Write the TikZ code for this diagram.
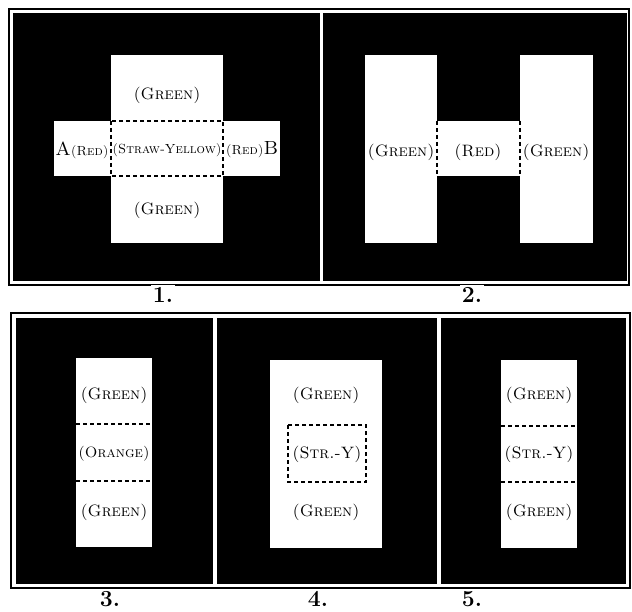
\documentclass[tikz,border=0pt]{standalone}
\usepackage{fontspec}
\begin{document}
\begin{tikzpicture}[x=1pt,y=-1pt,
 dsh/.style={dash pattern=on 4pt off 3pt, line width=1.4pt},
 frm/.style={line width=1.3pt},
 lbl/.style={font=\fontsize{16.5}{18}\selectfont\scshape, inner sep=0pt},
 lmd/.style={font=\fontsize{15}{17}\selectfont\scshape, inner sep=0pt},
 lsm/.style={font=\fontsize{13.2}{15}\selectfont\scshape, inner sep=0pt},
 num/.style={font=\fontsize{23}{25}\selectfont\bfseries, fill=white, inner sep=2pt}]
\useasboundingbox (0,0) rectangle (632,612);
% ---------- frames ----------
\draw[frm] (9,9) rectangle (629,285);
\draw[frm] (11,313) rectangle (630,588);
% ---------- panel 1 ----------
\fill (13,13) rectangle (320,281);
\fill[white] (111,55) rectangle (223,243);
\fill[white] (54,121) rectangle (280,176);
\draw[dsh] (111,121) rectangle (223,176);
\node[lbl] (p1t) at (167,95) {(Green)};
\node[lbl] (p1b) at (167,210) {(Green)};
\node[lsm] (p1c) at (167,150) {(Straw-Yellow)};
\node[lsm] (p1l) at (82,150) {{\fontsize{19}{20}\selectfont A}(Red)};
\node[lsm] (p1r) at (252,150) {(Red){\fontsize{19}{20}\selectfont B}};
% ---------- panel 2 ----------
\fill (323,13) rectangle (627,281);
\fill[white] (365,55) rectangle (437,243);
\fill[white] (520,55) rectangle (593,243);
\fill[white] (437,121) rectangle (520,176);
\draw[dsh] (437,121) -- (437,176);
\draw[dsh] (520,121) -- (520,176);
\node[lbl] (p2l) at (401,152) {(Green)};
\node[lbl] (p2c) at (478,152) {(Red)};
\node[lbl] (p2r) at (556,152) {(Green)};
% ---------- panel 3 ----------
\fill (16,318) rectangle (213,584);
\fill[white] (76,358) rectangle (152,547);
\draw[dsh] (76,424) -- (152,424);
\draw[dsh] (76,481) -- (152,481);
\node[lbl] (p3t) at (114,395) {(Green)};
\node[lmd] (p3c) at (114,454) {(Orange)};
\node[lbl] (p3b) at (114,512) {(Green)};
% ---------- panel 4 ----------
\fill (217,318) rectangle (437,584);
\fill[white] (270,360) rectangle (382,548);
\draw[dsh] (288,425) rectangle (366,482);
\node[lbl] (p4t) at (326,395) {(Green)};
\node[lbl] (p4c) at (327,454) {(Str.-Y)};
\node[lbl] (p4b) at (326,512) {(Green)};
% ---------- panel 5 ----------
\fill (441,318) rectangle (626,584);
\fill[white] (501,360) rectangle (577,548);
\draw[dsh] (501,426) -- (577,426);
\draw[dsh] (501,482) -- (577,482);
\node[lbl] (p5t) at (539,395) {(Green)};
\node[lbl] (p5c) at (539,454) {(Str.-Y)};
\node[lbl] (p5b) at (539,512) {(Green)};
% ---------- numbers ----------
\node[num] (n1) at (163,295) {1.};
\node[num] (n2) at (472,295) {2.};
\node[num] (n3) at (110,599) {3.};
\node[num] (n4) at (318,599) {4.};
\node[num] (n5) at (472,599) {5.};
\end{tikzpicture}
\end{document}
